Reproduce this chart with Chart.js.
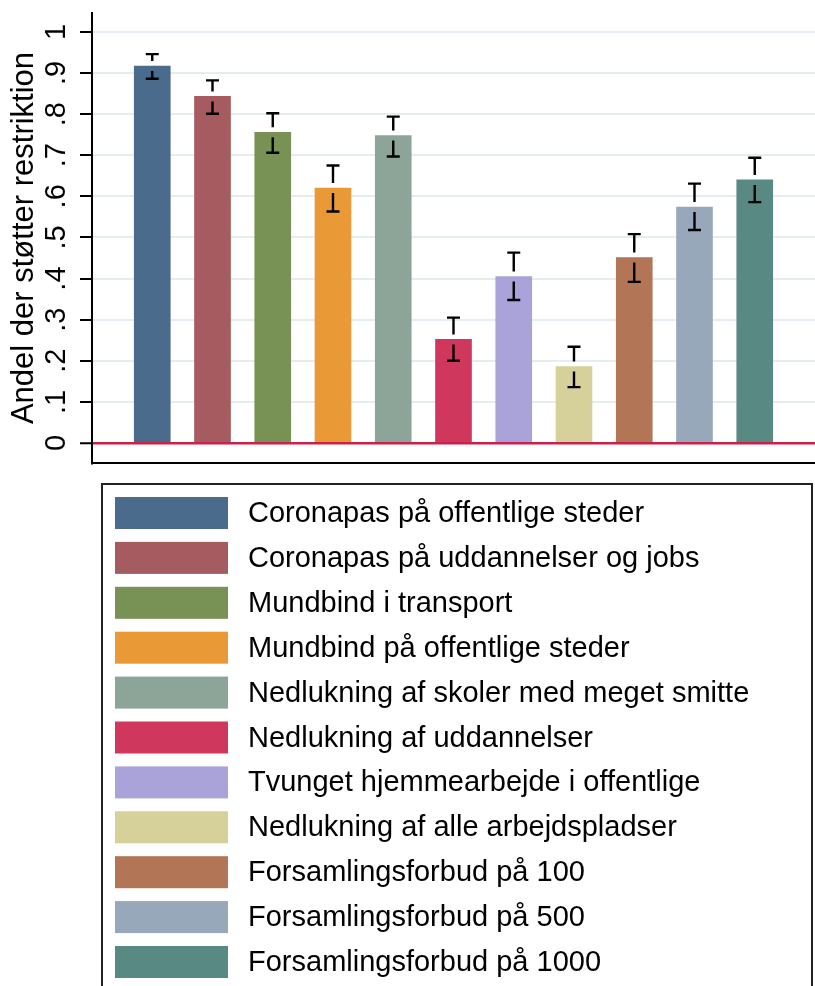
<!DOCTYPE html>
<html>
<head>
<meta charset="utf-8">
<script src="https://cdn.jsdelivr.net/npm/chart.js@4"></script>
<style>
  html, body { margin: 0; padding: 0; background: #fff; }
  #wrap { width: 815px; height: 986px; }
</style>
</head>
<body>
<div id="wrap"><canvas id="restriction-chart" width="815" height="986"></canvas></div>
<script>
const restrictions = [
    'Coronapas på offentlige steder',
    'Coronapas på uddannelser og jobs',
    'Mundbind i transport',
    'Mundbind på offentlige steder',
    'Nedlukning af skoler med meget smitte',
    'Nedlukning af uddannelser',
    'Tvunget hjemmearbejde i offentlige',
    'Nedlukning af alle arbejdspladser',
    'Forsamlingsforbud på 100',
    'Forsamlingsforbud på 500',
    'Forsamlingsforbud på 1000'
];
const support = [0.917, 0.843, 0.756, 0.620, 0.748, 0.252, 0.405, 0.186, 0.451, 0.574, 0.640];
const ciLow   = [0.886, 0.801, 0.706, 0.563, 0.697, 0.200, 0.348, 0.136, 0.392, 0.518, 0.586];
const ciHigh  = [0.946, 0.882, 0.802, 0.675, 0.794, 0.305, 0.463, 0.234, 0.508, 0.631, 0.694];
const barColors = ['#4a6b8b', '#a65b61', '#789155', '#e99a36', '#8ca598', '#cf385c',
                   '#a9a3d9', '#d6d09a', '#b27556', '#97a8ba', '#588a83'];
const yTicks = [0, 0.1, 0.2, 0.3, 0.4, 0.5, 0.6, 0.7, 0.8, 0.9, 1];

const fontFamily = "'Liberation Sans', Arial, Helvetica, sans-serif";
const zeroLineColor = '#c9214a';

// error bars: cap above and below the bar top, with a small gap at the bar edge
const errorBarPlugin = {
    id: 'errorBars',
    afterDatasetsDraw(chart) {
        const { ctx, scales: { x, y } } = chart;
        ctx.save();
        ctx.strokeStyle = '#000';
        ctx.lineWidth = 2.4;
        const capHalf = 6.5;
        const gap = 5;
        support.forEach((v, i) => {
            const px = x.getPixelForValue(i + 1);
            const top = y.getPixelForValue(v);
            const hi = y.getPixelForValue(ciHigh[i]);
            const lo = y.getPixelForValue(ciLow[i]);
            ctx.beginPath();
            ctx.moveTo(px - capHalf, hi);
            ctx.lineTo(px + capHalf, hi);
            ctx.moveTo(px, hi);
            ctx.lineTo(px, Math.max(hi, top - gap));
            ctx.moveTo(px, Math.min(lo, top + gap));
            ctx.lineTo(px, lo);
            ctx.moveTo(px - capHalf, lo);
            ctx.lineTo(px + capHalf, lo);
            ctx.stroke();
        });
        ctx.restore();
    }
};

// boxed one-column legend below the plot
const boxLegendPlugin = {
    id: 'boxLegend',
    afterDraw(chart) {
        const ctx = chart.ctx;
        const left = 102, top = 484, right = 812;
        const rowH = 44.9, swW = 113, swH = 32;
        ctx.save();
        ctx.strokeStyle = '#222';
        ctx.lineWidth = 2;
        ctx.strokeRect(left, top, right - left, 520);
        ctx.font = `29px ${fontFamily}`;
        ctx.textBaseline = 'middle';
        restrictions.forEach((label, i) => {
            const sy = 497 + i * rowH;
            ctx.fillStyle = barColors[i];
            ctx.fillRect(115, sy, swW, swH);
            ctx.fillStyle = '#000';
            ctx.fillText(label, 248, sy + swH / 2 + 1);
        });
        ctx.restore();
    }
};

const ctx = document.getElementById('restriction-chart').getContext('2d');
new Chart(ctx, {
    type: 'bar',
    data: {
        datasets: [{
            data: support.map((v, i) => ({ x: i + 1, y: v })),
            backgroundColor: barColors,
            borderWidth: 0,
            barThickness: 36
        }]
    },
    options: {
        responsive: false,
        animation: false,
        layout: {
            padding: { top: 13, bottom: 523, left: 0, right: 0 }
        },
        plugins: {
            legend: { display: false },
            tooltip: { enabled: false }
        },
        scales: {
            x: {
                type: 'linear',
                min: 0,
                max: 12,
                offset: false,
                grid: { display: false },
                ticks: { display: false },
                border: { display: true, color: '#000', width: 2 },
                afterFit: scale => { scale.height = 0; }
            },
            y: {
                min: -0.0487,
                max: 1.046,
                afterBuildTicks: scale => {
                    scale.ticks = yTicks.map(v => ({ value: v }));
                },
                ticks: {
                    minRotation: 90,
                    maxRotation: 90,
                    crossAlign: 'center',
                    padding: 11,
                    color: '#000',
                    font: { family: fontFamily, size: 29 },
                    callback: v => v === 0 ? '0' : v === 1 ? '1' : v.toFixed(1).replace(/^0/, '')
                },
                grid: {
                    color: c => c.tick && c.tick.value === 0 ? zeroLineColor : '#e6edf1',
                    lineWidth: c => c.tick && c.tick.value === 0 ? 2.5 : 2,
                    tickLength: 12,
                    tickColor: '#000',
                    tickWidth: 2
                },
                border: { display: true, color: '#000', width: 2 },
                title: {
                    display: true,
                    text: 'Andel der støtter restriktion',
                    color: '#000',
                    font: { family: fontFamily, size: 31 },
                    padding: { top: 6, bottom: 0 }
                },
                afterFit: scale => {
                    scale.width = 92;
                    scale.paddingTop = 0;
                    scale.paddingBottom = 0;
                }
            }
        }
    },
    plugins: [errorBarPlugin, boxLegendPlugin]
});
</script>
</body>
</html>
